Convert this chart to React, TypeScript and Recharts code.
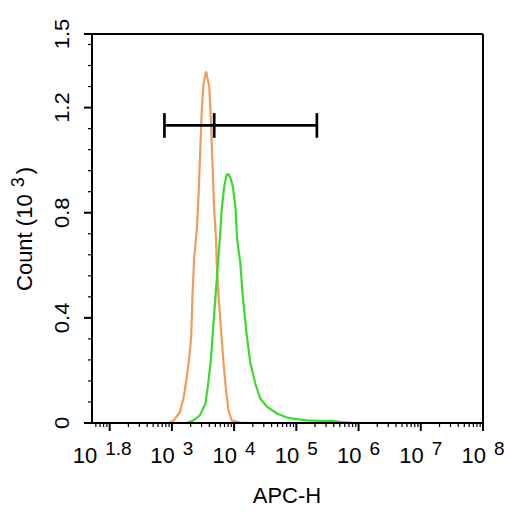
import { LineChart, Line, XAxis, YAxis, ReferenceLine } from 'recharts';

// APC-H channel positions are kept as decade exponents (value = 10^e)
const orangeExp = [2.81, 2.95, 3.03, 3.13, 3.19, 3.24, 3.28, 3.31, 3.33, 3.36, 3.40, 3.43, 3.45, 3.48, 3.51, 3.55, 3.60, 3.62, 3.64, 3.66, 3.68, 3.71, 3.72, 3.75, 3.79, 3.83, 3.87, 3.91, 3.96, 4.10, 4.26];
const orangeCount = [0, 0, 0.010, 0.042, 0.099, 0.175, 0.251, 0.328, 0.480, 0.632, 0.734, 0.874, 1.001, 1.191, 1.293, 1.337, 1.280, 1.191, 1.066, 0.937, 0.810, 0.696, 0.607, 0.480, 0.353, 0.226, 0.125, 0.048, 0.010, 0.002, 0];

const greenExp = [3.24, 3.35, 3.45, 3.54, 3.59, 3.63, 3.66, 3.70, 3.74, 3.78, 3.80, 3.84, 3.88, 3.91, 3.95, 3.98, 4.02, 4.05, 4.10, 4.14, 4.20, 4.26, 4.34, 4.42, 4.53, 4.69, 4.85, 5.01, 5.17, 5.38, 5.59, 5.70, 5.94];
const greenCount = [0, 0.010, 0.029, 0.074, 0.163, 0.251, 0.353, 0.480, 0.607, 0.734, 0.810, 0.899, 0.944, 0.947, 0.925, 0.899, 0.823, 0.696, 0.607, 0.480, 0.34, 0.23, 0.15, 0.093, 0.061, 0.036, 0.021, 0.015, 0.010, 0.008, 0.008, 0.004, 0];

// gate marker: left cap, inner cap, right cap (exponents) at one count level
const gateExp = [2.88, 3.68, 5.33];
const gateCount = 1.132;
const gateCapHalf = 0.047;

// axes
const xDomainExp = [1.716, 8];
const xLabelExp = [1.8, 3, 4, 5, 6, 7, 8];
const xMajorExp = [2, 3, 4, 5, 6, 7, 8];
const yDomain = [0, 1.48];
const yLabelValues = [0, 0.4, 0.8, 1.2, 1.48];
const yLabelText = ['0', '0.4', '0.8', '1.2', '1.5'];
const yStep = 0.08;

const FONT = '"Liberation Sans", Arial, Helvetica, sans-serif';
const ORANGE = '#F19B5B';
const GREEN = '#3BDB2C';

const toData = (exps: number[], counts: number[]) =>
  exps.map((e, i) => ({ x: Math.pow(10, e), y: counts[i] }));

const orangeData = toData(orangeExp, orangeCount);
const greenData = toData(greenExp, greenCount);

const near = (a: number, b: number) => Math.abs(a - b) < 1e-6;

// log ticks: labels, decade marks and 2..9 minor marks
const xMinor: number[] = [];
for (let k = 1; k < 8; k++) {
  for (let m = 2; m <= 9; m++) {
    const v = m * Math.pow(10, k);
    if (Math.log10(v) > xDomainExp[0]) xMinor.push(v);
  }
}
const xTicks = [
  ...xLabelExp.map((e) => Math.pow(10, e)),
  ...xMajorExp.map((e) => Math.pow(10, e)),
  ...xMinor,
].sort((a, b) => a - b).filter((v, i, arr) => i === 0 || !near(Math.log10(v), Math.log10(arr[i - 1])));

const yMinor: number[] = [];
for (let i = 1; i * yStep < yDomain[1]; i++) yMinor.push(+(i * yStep).toFixed(2));
const yTicks = Array.from(new Set([...yMinor, ...yLabelValues])).sort((a, b) => a - b);

function XTick(props: any) {
  const { x, y, payload } = props;
  const e = Math.log10(payload.value);
  const labelIdx = xLabelExp.findIndex((l) => near(l, e));
  const isMajor = xMajorExp.some((l) => near(l, e));
  const isMinor = !isMajor && labelIdx < 0;
  return (
    <g>
      {isMajor && <line x1={x} y1={y} x2={x} y2={y + 8} stroke="#000" strokeWidth={2} />}
      {isMinor && <line x1={x} y1={y} x2={x} y2={y + 4} stroke="#000" strokeWidth={1.2} />}
      {labelIdx >= 0 && (
        <text
          x={x + (labelIdx === 0 ? 5 : 0)}
          y={y + 40}
          textAnchor="middle"
          fontFamily={FONT}
          fontSize={22}
          fill="#000"
        >
          <tspan>10</tspan>
          <tspan dx={8} dy={-8} fontSize={19}>{xLabelExp[labelIdx]}</tspan>
        </text>
      )}
    </g>
  );
}

function YTick(props: any) {
  const { x, y, payload } = props;
  const idx = yLabelValues.findIndex((v) => near(v, payload.value));
  const isMajor = idx >= 0;
  return (
    <g>
      <line
        x1={x - (isMajor ? 8 : 4)}
        y1={y}
        x2={x}
        y2={y}
        stroke="#000"
        strokeWidth={isMajor ? 2 : 1.2}
      />
      {isMajor && (
        <text
          transform={`translate(${x - 23.5},${y}) rotate(-90) scale(1,0.9)`}
          textAnchor="middle"
          fontFamily={FONT}
          fontSize={22}
          fill="#000"
        >
          {yLabelText[idx]}
        </text>
      )}
    </g>
  );
}

export default function App() {
  const [g0, g1, g2] = gateExp.map((e) => Math.pow(10, e));
  return (
    <div style={{ position: 'absolute', left: 0, top: 0, background: '#fff' }}>
      <LineChart width={510} height={514} margin={{ top: 34, right: 27, bottom: 0, left: 0 }}>
        <XAxis
          dataKey="x"
          type="number"
          scale="log"
          domain={xDomainExp.map((e) => Math.pow(10, e))}
          allowDataOverflow
          ticks={xTicks}
          interval={0}
          tick={<XTick />}
          tickLine={false}
          tickSize={0}
          tickMargin={0}
          height={91}
          axisLine={{ stroke: '#000', strokeWidth: 2 }}
          label={{
            content: () => (
              <text x={287} y={503} textAnchor="middle" fontFamily={FONT} fontSize={22} fill="#000">
                APC-H
              </text>
            ),
          }}
        />
        <YAxis
          type="number"
          domain={yDomain}
          allowDataOverflow
          ticks={yTicks}
          interval={0}
          tick={<YTick />}
          tickLine={false}
          tickSize={0}
          tickMargin={0}
          width={92}
          axisLine={{ stroke: '#000', strokeWidth: 2 }}
          label={{
            content: () => (
              <text
                transform="translate(32,229) rotate(-90)"
                textAnchor="middle"
                fontFamily={FONT}
                fontSize={22}
                fill="#000"
              >
                <tspan>Count  (10</tspan>
                <tspan dx={7} dy={-8} fontSize={18}>3</tspan>
                <tspan dx={3} dy={8}>)</tspan>
              </text>
            ),
          }}
        />
        <Line data={orangeData} dataKey="y" type="linear" stroke={ORANGE} strokeWidth={2.2} dot={false} isAnimationActive={false} />
        <Line data={greenData} dataKey="y" type="linear" stroke={GREEN} strokeWidth={2.2} dot={false} isAnimationActive={false} />
        <ReferenceLine y={yDomain[1]} stroke="#000" strokeWidth={2} ifOverflow="visible" />
        <ReferenceLine x={Math.pow(10, xDomainExp[1])} stroke="#000" strokeWidth={2} ifOverflow="visible" />
        <ReferenceLine segment={[{ x: g0, y: gateCount }, { x: g2, y: gateCount }]} stroke="#000" strokeWidth={2.7} ifOverflow="visible" />
        {[g0, g1, g2].map((g, i) => (
          <ReferenceLine
            key={i}
            segment={[{ x: g, y: gateCount - gateCapHalf }, { x: g, y: gateCount + gateCapHalf }]}
            stroke="#000"
            strokeWidth={2.7}
            ifOverflow="visible"
          />
        ))}
      </LineChart>
    </div>
  );
}
